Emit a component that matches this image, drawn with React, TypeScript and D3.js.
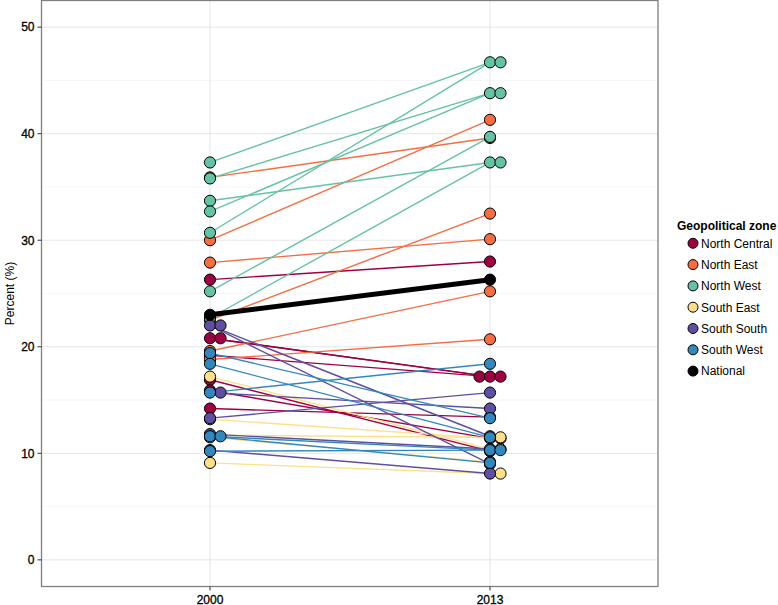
import React from "react";
import * as d3 from "d3";

const zones = ["North Central", "North East", "North West", "South East", "South South", "South West"];
const zoneColors = ["#9E0142", "#F46D43", "#66C2A5", "#FEE08B", "#5E4FA2", "#3288BD"];
const years = ["2000", "2013"];
const yTicks = [0, 10, 20, 30, 40, 50];
const yMinor = [5, 15, 25, 35, 45];

// each state: zone, value in 2000, value in 2013
const stateZone = [
  "North Central", "North Central", "North Central", "North Central", "North Central", "North Central", "North Central",
  "North East", "North East", "North East", "North East", "North East", "North East",
  "North West", "North West", "North West", "North West", "North West", "North West", "North West",
  "South East", "South East", "South East", "South East", "South East",
  "South South", "South South", "South South", "South South", "South South", "South South",
  "South West", "South West", "South West", "South West", "South West", "South West",
];
const value2000 = [
  26.3, 20.8, 20.8, 19.2, 16.9, 15.9, 14.2,
  35.9, 30.0, 27.9, 22.5, 19.6, 18.8,
  37.3, 35.8, 33.7, 32.7, 30.7, 25.2, 22.7,
  17.2, 13.2, 11.7, 11.5, 9.1,
  22.0, 22.0, 15.7, 13.3, 10.3, 11.8,
  19.4, 18.4, 15.7, 11.6, 11.6, 10.2,
];
const value2013 = [
  28.0, 17.2, 17.2, 17.2, 10.2, 11.4, 13.4,
  39.6, 41.3, 30.1, 32.5, 25.2, 20.7,
  46.7, 43.8, 37.3, 43.8, 46.7, 39.7, 37.3,
  10.4, 11.4, 11.5, 9.2, 8.1,
  11.6, 9.0, 14.2, 15.7, 8.1, 10.4,
  13.3, 11.5, 18.4, 10.3, 9.1, 10.3,
];
const national = [23.0, 26.3];

const W = 778, H = 605;

export default function App() {
  const x = d3.scalePoint<string>().domain(years).range([210, 490]);
  const y = d3.scaleLinear().domain([-2.5, 52.5]).range([586.5, 0.5]);
  const color = d3.scaleOrdinal<string, string>().domain(zones).range(zoneColors);
  const panel = { l: 41.5, r: 658, t: 0.5, b: 586.5 };

  const states = stateZone.map((z, i) => ({ zone: z, zi: zones.indexOf(z), vals: [value2000[i], value2013[i]] }));

  // dodge points with identical values
  type Pt = { cx: number; cy: number; fill: string; order: number };
  const pts: Pt[] = [];
  years.forEach((yr, yi) => {
    const groups = d3.group(states.map((s, i) => ({ s, i })), (d) => d.s.vals[yi].toFixed(1));
    groups.forEach((arr) => {
      const sorted = arr.slice().sort((a, b) => b.s.zi - a.s.zi);
      const n = sorted.length;
      sorted.forEach((d, k) => {
        const off = (k - Math.floor((n - 1) / 2)) * 10.5;
        pts.push({ cx: (x(yr) as number) + off, cy: y(d.s.vals[yi]), fill: color(d.s.zone), order: d.i });
      });
    });
  });
  pts.sort((a, b) => a.order - b.order);

  const line = d3.line<number>().x((_, i) => x(years[i]) as number).y((v) => y(v));

  const legendItems = [...zones.map((z) => ({ label: z, fill: color(z) })), { label: "National", fill: "#000000" }];

  return (
    <svg width={W} height={H} style={{ position: "absolute", left: 0, top: 0, fontFamily: "Liberation Sans, Arial, sans-serif" }}>
      <rect x={0} y={0} width={W} height={H} fill="#ffffff" />
      {/* grid */}
      {yMinor.map((v) => (
        <line key={"mn" + v} x1={panel.l} x2={panel.r} y1={y(v)} y2={y(v)} stroke="#f4f4f4" strokeWidth={0.8} />
      ))}
      {yTicks.map((v) => (
        <line key={"mj" + v} x1={panel.l} x2={panel.r} y1={y(v)} y2={y(v)} stroke="#e6e6e6" strokeWidth={1} />
      ))}
      {years.map((yr) => (
        <line key={"vg" + yr} x1={x(yr)} x2={x(yr)} y1={panel.t} y2={panel.b} stroke="#e6e6e6" strokeWidth={1} />
      ))}
      {/* lines */}
      {states.map((s, i) => (
        <path key={"l" + i} d={line(s.vals) || ""} fill="none" stroke={color(s.zone)} strokeWidth={1.4} />
      ))}
      <path d={line(national) || ""} fill="none" stroke="#000" strokeWidth={5} />
      {/* points */}
      {pts.map((p, i) => (
        <circle key={"p" + i} cx={p.cx} cy={p.cy} r={5.6} fill={p.fill} stroke="#000" strokeWidth={1} />
      ))}
      {national.map((v, i) => (
        <circle key={"n" + i} cx={x(years[i])} cy={y(v)} r={5.6} fill="#000" stroke="#000" strokeWidth={1} />
      ))}
      {/* panel border */}
      <rect x={panel.l} y={panel.t} width={panel.r - panel.l} height={panel.b - panel.t} fill="none" stroke="#7f7f7f" strokeWidth={1.3} />
      {/* y axis */}
      {yTicks.map((v) => (
        <g key={"yt" + v}>
          <line x1={panel.l - 4} x2={panel.l} y1={y(v)} y2={y(v)} stroke="#333" strokeWidth={1} />
          <text x={panel.l - 7} y={y(v) + 4.3} textAnchor="end" fontSize={12} fill="#000" stroke="#000" strokeWidth={0.3}>{v}</text>
        </g>
      ))}
      {/* x axis */}
      {years.map((yr) => (
        <g key={"xt" + yr}>
          <line x1={x(yr)} x2={x(yr)} y1={panel.b} y2={panel.b + 4} stroke="#333" strokeWidth={1} />
          <text x={x(yr)} y={603.5} textAnchor="middle" fontSize={12} fill="#000" stroke="#000" strokeWidth={0.3}>{yr}</text>
        </g>
      ))}
      <text transform={`translate(14,${(panel.t + panel.b) / 2}) rotate(-90)`} textAnchor="middle" fontSize={12} fill="#000">Percent (%)</text>
      {/* legend */}
      <text x={677} y={229.5} fontSize={12} fontWeight="bold" fill="#000">Geopolitical zone</text>
      {legendItems.map((it, i) => (
        <g key={"lg" + i}>
          <circle cx={693} cy={243.3 + i * 21.3} r={5} fill={it.fill} stroke="#000" strokeWidth={1} />
          <text x={701} y={243.3 + i * 21.3 + 4.3} fontSize={12} fill="#000">{it.label}</text>
        </g>
      ))}
    </svg>
  );
}
